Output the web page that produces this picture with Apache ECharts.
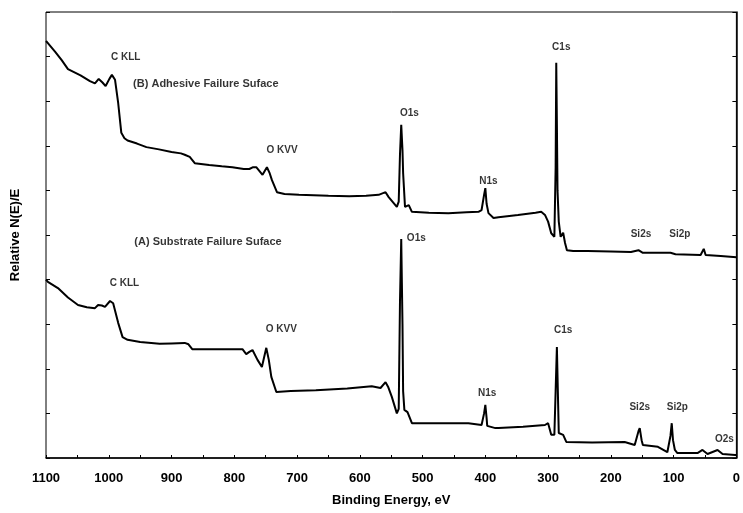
<!DOCTYPE html>
<html>
<head>
<meta charset="utf-8">
<script src="https://cdn.jsdelivr.net/npm/echarts@6/dist/echarts.min.js"></script>
<style>html,body{margin:0;padding:0;background:#fff}#c{width:743px;height:513px}</style>
</head>
<body>
<div id="c"></div>
<script>
// Binding energy (eV) and relative intensity (arbitrary units, 0-10)
var curveB = [
[1100,9.35],[1097,9.3],[1085,9.1],[1075,8.92],[1065,8.72],[1045,8.58],[1030,8.45],[1022,8.4],[1016,8.5],[1010,8.42],[1005,8.34],[999,8.5],[995,8.59],[990,8.48],[985,7.96],[980,7.29],[975,7.17],[970,7.12],[955,7.05],[940,6.97],[920,6.92],[900,6.86],[885,6.83],[879,6.8],[871,6.75],[863,6.61],[840,6.57],[820,6.54],[803,6.52],[785,6.48],[776,6.48],[770,6.52],[765,6.52],[755,6.35],[748,6.52],[744,6.4],[740,6.23],[732,5.96],[720,5.92],[697,5.9],[650,5.88],[617,5.87],[590,5.88],[570,5.9],[559,5.96],[554,5.85],[545,5.7],[541,5.63],[538,5.75],[536,6.8],[534,7.47],[532,6.9],[531,6.39],[528,5.63],[522,5.67],[517,5.52],[490,5.5],[459,5.49],[430,5.51],[411,5.52],[406,5.56],[402,5.9],[400,6.05],[398,5.7],[395,5.49],[387,5.38],[379,5.4],[348,5.45],[320,5.5],[311,5.52],[305,5.45],[300,5.3],[295,5.04],[290,4.96],[288,6.5],[287,8.86],[286,7.5],[285,6.0],[283,5.3],[280,4.96],[276,5.05],[273,4.82],[270,4.66],[260,4.64],[237,4.64],[200,4.63],[168,4.62],[156,4.66],[149,4.6],[120,4.6],[105,4.6],[102,4.64],[97,4.57],[57,4.55],[52,4.69],[49,4.55],[25,4.53],[0,4.5]
];
var curveA = [
[1100,4.0],[1097,3.95],[1081,3.81],[1065,3.6],[1049,3.43],[1035,3.38],[1022,3.36],[1017,3.43],[1011,3.42],[1006,3.39],[998,3.52],[993,3.47],[985,3.03],[978,2.71],[970,2.65],[950,2.6],[919,2.56],[900,2.57],[879,2.58],[873,2.55],[867,2.44],[830,2.44],[787,2.44],[781,2.33],[776,2.38],[771,2.42],[763,2.2],[756,2.04],[749,2.47],[745,2.2],[741,1.82],[733,1.48],[710,1.5],[670,1.52],[620,1.56],[581,1.61],[567,1.57],[559,1.7],[555,1.6],[549,1.37],[541,1.0],[538,1.1],[536,3.5],[534,4.91],[532,3.0],[531,1.5],[529,1.08],[527,1.12],[524,1.03],[517,0.78],[459,0.78],[427,0.78],[406,0.74],[402,1.0],[400,1.19],[398,0.9],[397,0.72],[384,0.67],[379,0.67],[340,0.7],[305,0.74],[300,0.78],[295,0.52],[290,0.52],[288,1.5],[286,2.49],[284,1.2],[283,0.56],[276,0.52],[271,0.36],[230,0.35],[178,0.36],[162,0.29],[156,0.6],[154,0.67],[151,0.4],[149,0.29],[146,0.29],[125,0.25],[110,0.13],[105,0.5],[103,0.78],[101,0.4],[98,0.18],[94,0.11],[62,0.11],[54,0.18],[46,0.09],[30,0.18],[22,0.09],[2,0.07],[0,0.07]
];
// Peak annotations: [binding energy, intensity, text]
var peakLabels = [
[973,8.99,'C KLL'],[724,6.91,'O KVV'],[521,7.74,'O1s'],[395,6.21,'N1s'],[279,9.22,'C1s'],[152,5.02,'Si2s'],[90,5.02,'Si2p'],
[975,3.92,'C KLL'],[725,2.89,'O KVV'],[510,4.93,'O1s'],[397,1.46,'N1s'],[276,2.87,'C1s'],[154,1.14,'Si2s'],[94,1.14,'Si2p'],[19,0.43,'O2s']
];
var spectrumTitles = [
[962,8.39,'(B) Adhesive Failure Suface'],
[960,4.84,'(A) Substrate Failure Suface']
];
var xName = 'Binding Energy, eV';
var yName = 'Relative N(E)/E';

var FONT = '"Liberation Sans", Arial, sans-serif';
var chart = echarts.init(document.getElementById('c'));
chart.setOption({
  animation: false,
  backgroundColor: '#fff',
  grid: {left: 46, right: 4, top: 12, bottom: 55, show: true, borderColor: '#000', borderWidth: 1},
  xAxis: {
    type: 'value', inverse: true, min: 0, max: 1100, interval: 100,
    name: xName, nameLocation: 'middle', nameGap: 36,
    nameTextStyle: {fontFamily: FONT, fontWeight: 'bold', fontSize: 13, color: '#000'},
    axisLine: {show: true, lineStyle: {color: '#000', width: 1.5}},
    axisTick: {show: true, inside: true, length: 3, lineStyle: {color: '#000'}},
    minorTick: {show: true, splitNumber: 2, length: 3, lineStyle: {color: '#000'}},
    splitLine: {show: false},
    axisLabel: {fontFamily: FONT, fontWeight: 'bold', fontSize: 13, color: '#000', margin: 14,
      formatter: function (v) { return String(v); }}
  },
  yAxis: [{
    type: 'value', min: 0, max: 10, interval: 1,
    name: yName, nameLocation: 'middle', nameGap: 24,
    nameTextStyle: {fontFamily: FONT, fontWeight: 'bold', fontSize: 13, color: '#000'},
    axisLine: {show: true, lineStyle: {color: '#000', width: 1.5}},
    axisTick: {show: true, length: 4, lineStyle: {color: '#000'}},
    axisLabel: {show: false},
    splitLine: {show: false}
  }, {
    type: 'value', min: 0, max: 10, interval: 1, position: 'left',
    axisLine: {show: false},
    axisTick: {show: true, inside: true, length: 4, lineStyle: {color: '#000'}},
    axisLabel: {show: false},
    splitLine: {show: false}
  }],
  series: [
    {type: 'line', data: curveB, symbol: 'none', lineStyle: {color: '#000', width: 2}, silent: true},
    {type: 'line', data: curveA, symbol: 'none', lineStyle: {color: '#000', width: 2}, silent: true},
    {type: 'scatter', symbolSize: 1, itemStyle: {color: 'transparent'}, silent: true,
      data: peakLabels.map(function (d) { return {value: [d[0], d[1]], name: d[2]}; }),
      label: {show: true, position: 'inside', formatter: '{b}', fontFamily: FONT, fontWeight: 'bold', fontSize: 10, color: '#000'}
    },
    {type: 'scatter', symbolSize: 1, itemStyle: {color: 'transparent'}, silent: true,
      data: spectrumTitles.map(function (d) { return {value: [d[0], d[1]], name: d[2]}; }),
      label: {show: true, position: 'right', distance: 0, formatter: '{b}', fontFamily: FONT, fontWeight: 'bold', fontSize: 11, color: '#000'}
    }
  ]
});
</script>
</body>
</html>
